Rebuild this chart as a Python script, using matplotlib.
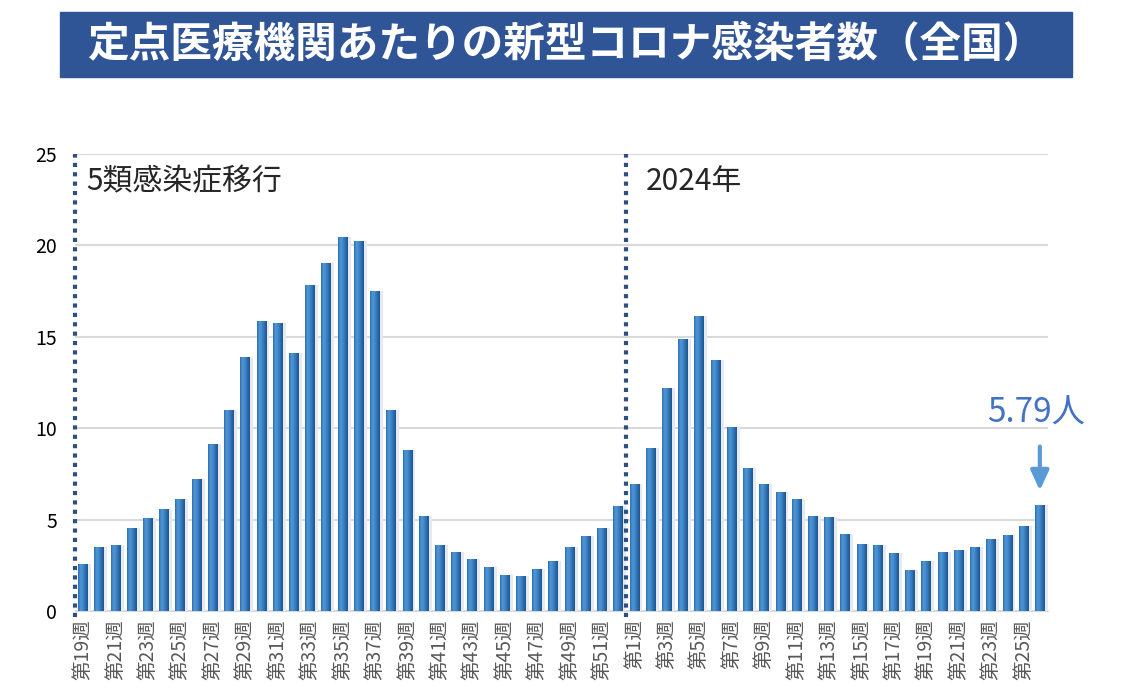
import numpy as np
import matplotlib
matplotlib.use("Agg")
import matplotlib.pyplot as plt
from matplotlib.patches import Rectangle
from matplotlib.colors import LinearSegmentedColormap

plt.rcParams["font.family"] = ["Noto Sans CJK JP", "DejaVu Sans"]

# 2023: weeks 19-52, 2024: weeks 1-26
weeks_2023 = list(range(19, 53))
weeks_2024 = list(range(1, 27))
vals_2023 = [2.57, 3.52, 3.63, 4.56, 5.11, 5.59, 6.14, 7.20, 9.12, 10.99,
             13.88, 15.87, 15.76, 14.13, 17.84, 19.05, 20.48, 20.22, 17.51, 10.99,
             8.79, 5.22, 3.63, 3.24, 2.86, 2.42, 1.96, 1.90, 2.31, 2.75,
             3.50, 4.12, 4.54, 5.77]
vals_2024 = [6.93, 8.90, 12.19, 14.88, 16.14, 13.73, 10.07, 7.84, 6.95, 6.53,
             6.15, 5.22, 5.13, 4.23, 3.66, 3.63, 3.19, 2.25, 2.75, 3.24,
             3.35, 3.52, 3.96, 4.18, 4.63, 5.79]

labels = [f"第{w}週" for w in weeks_2023] + [f"第{w}週" for w in weeks_2024]
values = vals_2023 + vals_2024
x = np.arange(len(values))

title = "定点医療機関あたりの新型コロナ感染者数（全国）"

fig = plt.figure(figsize=(11.22, 6.96), dpi=100)
ax = fig.add_axes([0.0668, 0.1221, 0.8672, 0.6566])

# title banner
fig.patches.append(Rectangle((60 / 1122, 1 - 77 / 696), 1012 / 1122, 65 / 696,
                             transform=fig.transFigure, color="#2F5597", zorder=0))
fig.text(87 / 1122, 1 - 45 / 696, title, color="white", fontsize=30,
         fontweight="bold", va="center", ha="left")

# faint shadow behind bars
ax.bar(x + 0.12, values, width=0.75, color="#E6EAF0", zorder=1)

bars = ax.bar(x, values, width=0.6, color="#2E75B6", zorder=2)
cmap = LinearSegmentedColormap.from_list(
    "cyl", ["#2A6BAD", "#5399D8", "#4088CC", "#2C6EAF", "#1E548D"])
grad = np.linspace(0, 1, 64).reshape(1, -1)
for b in bars:
    x0, w, h = b.get_x(), b.get_width(), b.get_height()
    im = ax.imshow(grad, cmap=cmap, aspect="auto", extent=[x0, x0 + w, 0, h],
                   zorder=3, interpolation="bicubic")
    im.set_clip_path(b)
    b.set_facecolor("none")

ax.set_xlim(-0.5, len(values) - 0.5)
ax.set_ylim(0, 25)
ax.set_yticks([0, 5, 10, 15, 20, 25])
ax.yaxis.grid(True, color="#D9D9D9", linewidth=1.5, zorder=0)
ax.set_axisbelow(True)
for s in ["left", "right", "top"]:
    ax.spines[s].set_visible(False)
ax.spines["bottom"].set_color("#D9D9D9")
ax.tick_params(axis="y", length=0, labelsize=14, pad=13)
ax.tick_params(axis="x", length=0, labelsize=14, labelcolor="#595959", pad=6)

tick_pos = [i for i, lab in enumerate(labels) if int(lab[1:-1]) % 2 == 1]
ax.set_xticks(tick_pos)
ax.set_xticklabels([labels[i] for i in tick_pos], rotation=90)

# dotted separators
for xv in [-0.5, len(vals_2023) - 0.5]:
    ax.plot([xv, xv], [-0.35, 25], color="#2F4F80", linewidth=3,
            linestyle=(0, (1.0, 1.25)), clip_on=False, zorder=4)

ax.text(0.18, 23.5, "5類感染症移行", fontsize=21.5, color="#262626", va="center")
ax.text(34.7, 23.5, "2024年", fontsize=21.5, color="#262626", va="center")

last = len(values) - 1
ax.text(last - 0.2, 10.8, f"{values[-1]:.2f}人", fontsize=24, color="#4472C4",
        ha="center", va="center")
ax.annotate("", xy=(last, values[-1] + 0.65), xytext=(last, 9.15),
            arrowprops=dict(arrowstyle="-|>,head_width=0.55,head_length=1.2",
                            color="#5B9BD5", lw=3))

fig.savefig("out.png", dpi=100)
